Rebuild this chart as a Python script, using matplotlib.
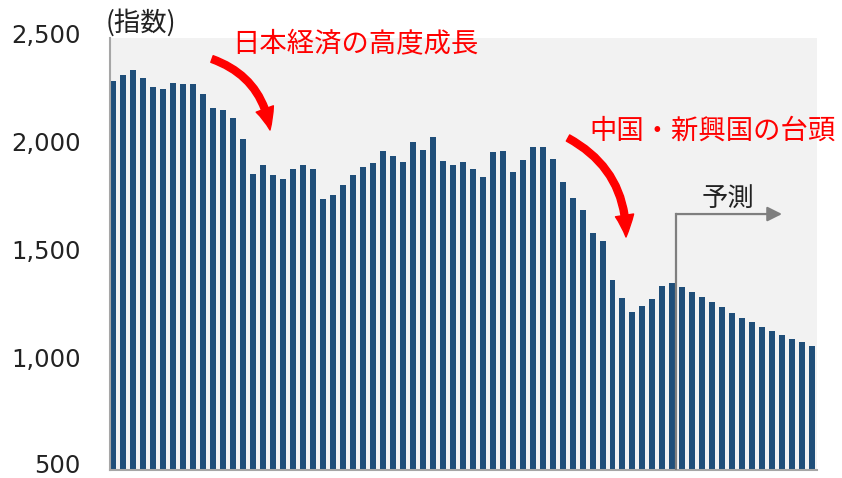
import matplotlib.pyplot as plt
import matplotlib.transforms as mtrans
import numpy as np

plt.rcParams['font.family'] = ['Noto Sans CJK JP', 'DejaVu Sans']

# 指数（年ごとの値、左から順に）
values = [2300, 2330, 2350, 2316, 2275, 2264, 2292, 2287, 2289, 2241,
          2175, 2168, 2129, 2031, 1870, 1913, 1864, 1849, 1893, 1911,
          1893, 1755, 1774, 1820, 1868, 1903, 1923, 1979, 1954, 1928,
          2019, 1982, 2040, 1930, 1911, 1925, 1895, 1855, 1974, 1976,
          1879, 1933, 1994, 1994, 1939, 1832, 1760, 1703, 1597, 1562,
          1380, 1298, 1233, 1259, 1290, 1353, 1365, 1347, 1325, 1302,
          1278, 1253, 1229, 1204, 1183, 1161, 1144, 1126, 1106, 1091,
          1074]
yticks = [500, 1000, 1500, 2000, 2500]
forecast_start = 56.36   # 予測の始まり（棒の位置）
unit_label = '(指数)'
label_growth = '日本経済の高度成長'
label_emerging = '中国・新興国の台頭'
label_forecast = '予測'

W, H = 842, 478
fig = plt.figure(figsize=(W / 100, H / 100), dpi=100)
ax = fig.add_axes([110 / W, 8 / H, 707 / W, 432 / H])
ax.set_facecolor('#f2f2f2')

x = np.arange(len(values))
ax.bar(x, values, width=0.6, color='#1f4e79', zorder=2)

ax.set_xlim(-0.3, 70.47)
ax.set_ylim(500, 2500)
ax.set_xticks([])
ax.set_yticks(yticks)
ax.set_yticklabels([f'{v:,}' for v in yticks], fontsize=17.5, color='#222222',
                   family='DejaVu Sans')
ax.tick_params(axis='y', length=0, pad=21)
# ラベルを少し上にずらす（一番下は画像の端にかからないよう多めに）
for lab, v in zip(ax.get_yticklabels(), yticks):
    dy = 5 if v == 500 else 3
    shift = mtrans.ScaledTranslation(0, dy / 72, fig.dpi_scale_trans)
    lab.set_transform(lab.get_transform() + shift)

for s in ['top', 'right']:
    ax.spines[s].set_visible(False)
for s in ['left', 'bottom']:
    ax.spines[s].set_color('#a6a6a6')
    ax.spines[s].set_linewidth(1.5)

# 予測の矢印
y_arrow = 1685
ax.plot([forecast_start, forecast_start], [500, y_arrow], color='#7f7f7f', lw=1.6, zorder=3)
ax.annotate('', xy=(66.97, y_arrow), xytext=(forecast_start, y_arrow),
            arrowprops=dict(arrowstyle='-|>', color='#7f7f7f', lw=1.6,
                            mutation_scale=22, shrinkA=0, shrinkB=0), zorder=3)
ax.text(61.6, 1758, label_forecast, fontsize=19, color='#222222',
        ha='center', va='center')

# テキスト（図のピクセル座標）
def px(xp, yp):
    return (xp, H - yp)

fig.text(106 / W, 1 - 23 / H, unit_label, fontsize=19, color='#222222',
         ha='left', va='center')
fig.text(232 / W, 1 - 45 / H, label_growth, fontsize=19.7, color='red',
         ha='left', va='center')
fig.text(589 / W, 1 - 131 / H, label_emerging, fontsize=19.7, color='red',
         ha='left', va='center')

red_style = 'simple,head_length=1.3,head_width=1.1,tail_width=0.42'
ax.annotate('', xy=px(270, 130), xycoords='figure pixels',
            xytext=px(212, 59), textcoords='figure pixels',
            arrowprops=dict(arrowstyle=red_style, color='red', mutation_scale=12,
                            connectionstyle='arc3,rad=-0.3', shrinkA=0, shrinkB=0),
            zorder=4, annotation_clip=False)
ax.annotate('', xy=px(626, 237), xycoords='figure pixels',
            xytext=px(568, 138), textcoords='figure pixels',
            arrowprops=dict(arrowstyle=red_style, color='red', mutation_scale=12,
                            connectionstyle='arc3,rad=-0.3', shrinkA=0, shrinkB=0),
            zorder=4, annotation_clip=False)

plt.savefig('out.png', dpi=100)
